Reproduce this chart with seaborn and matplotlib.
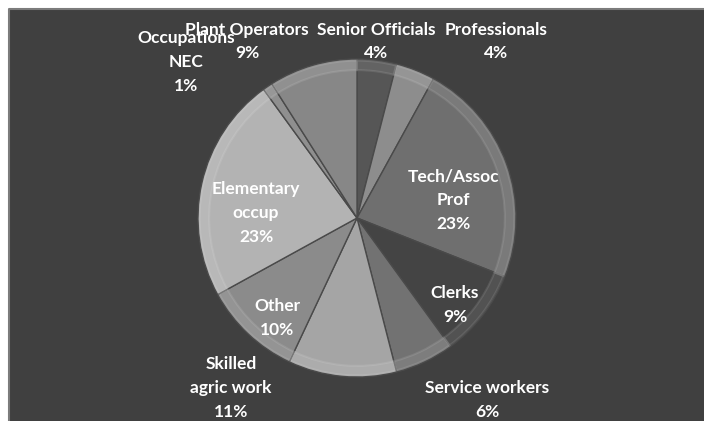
import matplotlib
matplotlib.use("Agg")
import matplotlib.pyplot as plt
from matplotlib.patches import Rectangle
from matplotlib.lines import Line2D
import seaborn as sns

# Occupation shares, clockwise from 12 o'clock
occupations = ["Senior Officials", "Professionals", "Tech/Assoc\nProf", "Clerks",
               "Service workers", "Skilled\nagric work", "Other", "Elementary\noccup",
               "Occupations\nNEC", "Plant Operators"]
shares = [4, 4, 23, 9, 6, 11, 10, 23, 1, 9]

# Grey shades for each slice
slice_greys = ["#565656", "#8d8d8d", "#6f6f6f", "#444444", "#727272",
               "#a5a5a5", "#8b8b8b", "#b3b3b3", "#8f8f8f", "#878787"]

# Label anchor points in pie units (radius = 1)
label_xy = [(0.12, 1.11), (0.874, 1.11), (0.604, 0.113), (0.616, -0.547),
            (0.818, -1.145), (-0.792, -1.069), (-0.503, -0.629), (-0.635, 0.031),
            (-1.075, 0.981), (-0.692, 1.11)]

sns.set_theme(style="white")
plt.rcParams["font.family"] = ["Lato", "DejaVu Sans"]

W, H, DPI = 704, 421, 100
fig = plt.figure(figsize=(W / DPI, H / DPI), dpi=DPI, facecolor="white")

# dark chart panel with a thin grey rim on the top and left
x0, y1 = 9 / W, 1 - 9 / H
fig.patches.append(Rectangle((x0, 0), 1 - x0, y1, transform=fig.transFigure,
                             facecolor="#404040", edgecolor="none", zorder=-5))
fig.lines.append(Line2D([x0, x0, 1], [0, y1, y1], transform=fig.transFigure,
                        color="#7c7c7c", linewidth=1.5, zorder=-4))

cx, cy, R = 357, 218, 159
ax = fig.add_axes([(cx - R) / W, (H - cy - R) / H, 2 * R / W, 2 * R / H])
ax.set_zorder(2)
ax.axis("off")
ax.patch.set_alpha(0)

wedges, _ = ax.pie(shares, colors=slice_greys, startangle=90, counterclock=False,
                   radius=1.0, wedgeprops=dict(edgecolor="#4a4a4a", linewidth=1.0))

# bevel highlight just inside the rim
ax.pie(shares, colors=["none"] * len(shares), startangle=90, counterclock=False,
       radius=0.99, wedgeprops=dict(width=0.06, edgecolor=(1, 1, 1, 0.10),
                                    linewidth=1.5, facecolor=(1, 1, 1, 0.08)))

ax.set_xlim(-1, 1)
ax.set_ylim(-1, 1)
ax.set_aspect("equal")

for text, share, (x, y) in zip(occupations, shares, label_xy):
    ax.text(x, y, f"{text}\n{share}%", ha="center", va="center", color="white",
            fontsize=12.5, fontweight="bold", linespacing=1.6, clip_on=False)

fig.savefig("out.png", dpi=DPI, facecolor="white")
